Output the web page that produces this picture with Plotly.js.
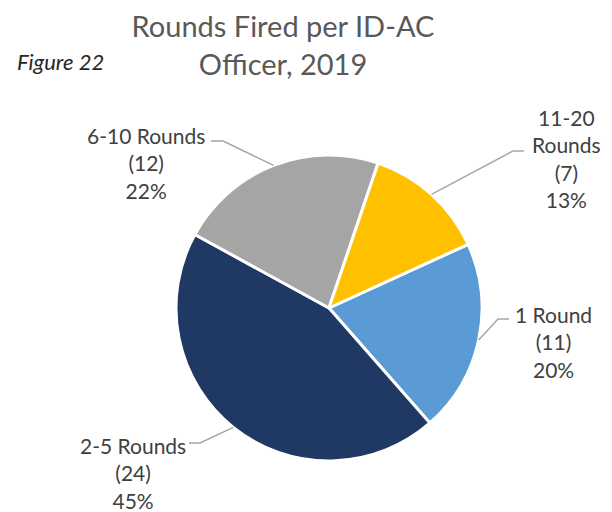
<!DOCTYPE html>
<html>
<head>
<meta charset="utf-8">
<script src="https://cdn.plot.ly/plotly-3.0.1.min.js"></script>
<style>html,body{margin:0;padding:0;background:#fff;}#chart{width:612px;height:512px;}</style>
</head>
<body>
<div id="chart"></div>
<script>
// ---- data ----
const categories = ['1 Round', '2-5 Rounds', '6-10 Rounds', '11-20 Rounds'];
const labelNames = ['1 Round', '2-5 Rounds', '6-10 Rounds', '11-20<br>Rounds'];
const counts = [11, 24, 12, 7];
const pctLabels = ['20%', '45%', '22%', '13%'];
const colors = ['#5B9BD5', '#203864', '#A5A5A5', '#FFC000'];

// ---- layout constants (pixels) ----
const W = 612, H = 512;
const cx = 329, cy = 308, R = 153;
const rotationDeg = 65.4;
// text anchor (centre of label block) and leader elbow / end for each category
const labelLayout = [
  {tx: 553, ty: 342, ex: 498, ey: 319, hx: 509},
  {tx: 133, ty: 473, ex: 200, ey: 443, hx: 189},
  {tx: 146, ty: 163, ex: 223, ey: 141, hx: 211},
  {tx: 566, ty: 158, ex: 513, ey: 151, hx: 524}
];

const px = x => x / W;
const py = y => 1 - y / H;

const total = counts.reduce((a, b) => a + b, 0);
const annotations = [];
const shapes = [];
let start = rotationDeg;
counts.forEach((v, i) => {
  const span = v / total * 360;
  const mid = (start + span / 2) * Math.PI / 180;
  start += span;
  const sx = cx + R * Math.sin(mid), sy = cy - R * Math.cos(mid);
  const L = labelLayout[i];
  shapes.push({
    type: 'path', xref: 'paper', yref: 'paper',
    path: `M ${px(sx)} ${py(sy)} L ${px(L.ex)} ${py(L.ey)} L ${px(L.hx)} ${py(L.ey)}`,
    line: {color: '#A6A6A6', width: 1.5}
  });
  annotations.push({
    xref: 'paper', yref: 'paper', x: px(L.tx), y: py(L.ty),
    xanchor: 'center', yanchor: 'middle', align: 'center', showarrow: false,
    text: `${labelNames[i]}<br>(${v})<br>${pctLabels[i]}`,
    font: {family: 'Lato, sans-serif', size: 21, color: '#404040'}
  });
});

annotations.push({
  xref: 'paper', yref: 'paper', x: px(15), y: py(61),
  xanchor: 'left', yanchor: 'middle', showarrow: false,
  text: '<i>Figure 22</i>',
  font: {family: 'Lato, sans-serif', size: 22, color: '#262626'}
});

const trace = {
  type: 'pie',
  labels: categories,
  values: counts,
  sort: false,
  direction: 'clockwise',
  rotation: rotationDeg,
  textinfo: 'none',
  hoverinfo: 'skip',
  marker: {colors: colors, line: {color: '#FFFFFF', width: 3}},
  domain: {x: [px(cx - R), px(cx + R)], y: [py(cy + R), py(cy - R)]}
};

const layout = {
  width: W, height: H,
  margin: {l: 0, r: 0, t: 0, b: 0},
  paper_bgcolor: '#FFFFFF',
  showlegend: false,
  title: {
    text: 'Rounds Fired per ID-AC<br>Officer, 2019',
    x: 283 / W, xanchor: 'center', xref: 'paper',
    y: 1 - 37 / H, yanchor: 'middle', yref: 'container',
    font: {family: 'Lato, sans-serif', size: 29, color: '#595959'}
  },
  annotations: annotations,
  shapes: shapes
};

Plotly.newPlot('chart', [trace], layout, {staticPlot: true, displayModeBar: false});
</script>
</body>
</html>
